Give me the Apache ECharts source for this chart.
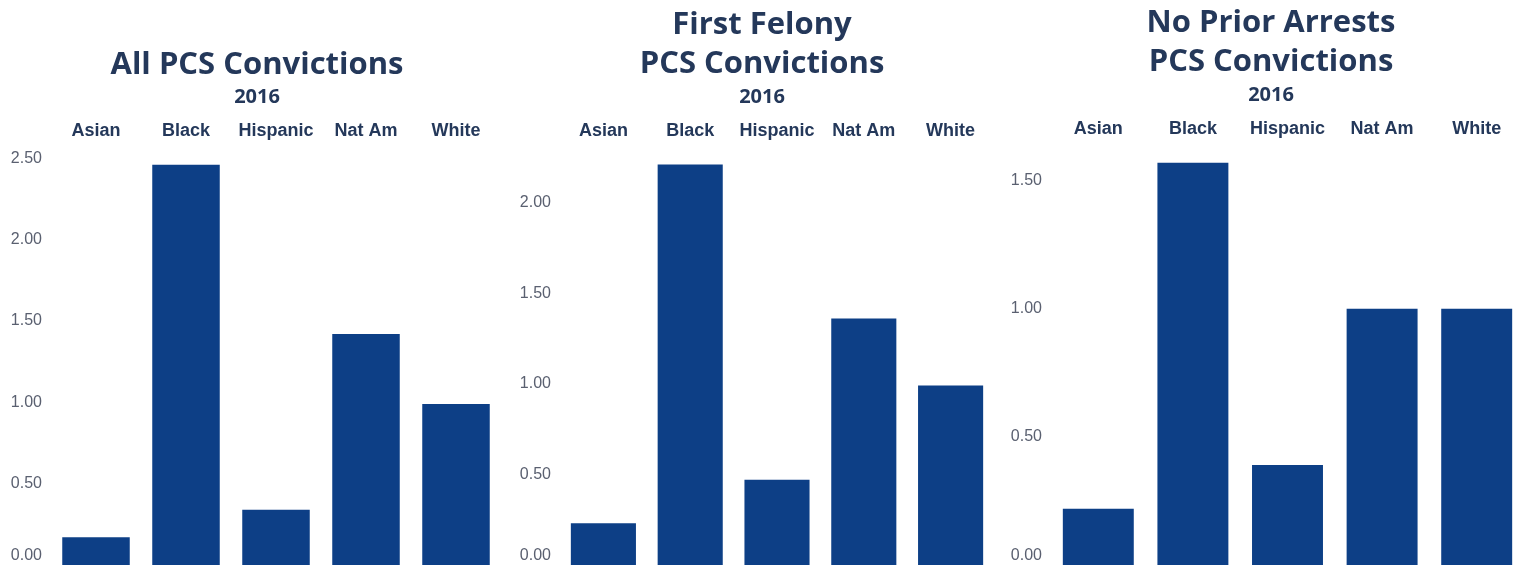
<!DOCTYPE html>
<html><head><meta charset="utf-8">
<script src="https://cdn.jsdelivr.net/npm/echarts@6/dist/echarts.min.js"></script>
<style>html,body{margin:0;padding:0;background:#fff}#c{width:1532px;height:568px}</style>
</head><body><div id="c"></div>
<script>
const categories = ['Asian', 'Black', 'Hispanic', 'Nat Am', 'White'];
const allPcs = [0.17, 2.46, 0.34, 1.42, 0.99];
const firstFelony = [0.23, 2.21, 0.47, 1.36, 0.99];
const noPrior = [0.22, 1.57, 0.39, 1.00, 1.00];
const titles = ['All PCS Convictions', 'First Felony\nPCS Convictions', 'No Prior Arrests\nPCS Convictions'];
const yearLabel = '2016';
const yMax = [2.55, 2.29, 1.62];

const panels = [
  {data: allPcs, left: 51, right: 1532 - 501, cx: 257, titleTop: 46, yearTop: 87, catMargin: 10},
  {data: firstFelony, left: 560, right: 1532 - 994, cx: 762, titleTop: 6, yearTop: 87, catMargin: 10},
  {data: noPrior, left: 1051, right: 1532 - 1524, cx: 1271, titleTop: 4, yearTop: 85, catMargin: 12}
];
const navy = '#24385a';
const option = {
  backgroundColor: '#fff',
  animation: false,
  title: [], grid: [], xAxis: [], yAxis: [], series: []
};
panels.forEach((p, i) => {
  option.title.push({
    text: titles[i], left: p.cx, top: p.titleTop, textAlign: 'center', padding: 0,
    textStyle: {fontFamily: 'Open Sans', fontWeight: 'bold', fontSize: 31, color: navy, lineHeight: 39}
  });
  option.title.push({
    text: yearLabel, left: p.cx, top: p.yearTop, textAlign: 'center', padding: 0,
    textStyle: {fontFamily: 'Open Sans', fontWeight: 'bold', fontSize: 20, color: navy}
  });
  option.grid.push({left: p.left, right: p.right, top: 150, bottom: 3});
  option.xAxis.push({
    type: 'category', gridIndex: i, data: categories, position: 'top',
    axisLine: {show: false}, axisTick: {show: false},
    axisLabel: {interval: 0, hideOverlap: false, margin: p.catMargin, fontFamily: 'Liberation Sans', fontWeight: 'bold', fontSize: 18, color: navy}
  });
  option.yAxis.push({
    type: 'value', gridIndex: i, min: 0, max: yMax[i], interval: 0.5,
    axisLine: {show: false}, axisTick: {show: false}, splitLine: {show: false},
    axisLabel: {margin: 9, showMaxLabel: false, fontFamily: 'Liberation Sans', fontSize: 16, color: '#5a6070',
      formatter: v => {
        if (Math.abs(v * 2 - Math.round(v * 2)) > 1e-6) return '';
        return v === 0 ? '{z|0.00}' : v.toFixed(2);
      },
      rich: {z: {fontFamily: 'Liberation Sans', fontSize: 16, color: '#5a6070', padding: [0, 0, 18, 0]}}
    }
  });
  option.series.push({
    type: 'bar', xAxisIndex: i, yAxisIndex: i, data: p.data, barWidth: '75%',
    itemStyle: {color: '#0d3f86'}
  });
});
echarts.init(document.getElementById('c')).setOption(option);
</script></body></html>
